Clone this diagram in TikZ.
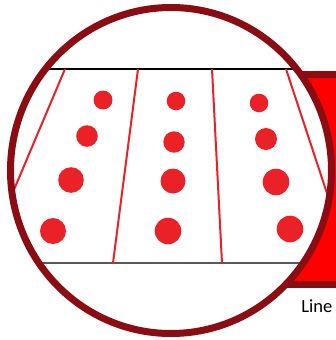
\documentclass[tikz,border=0pt]{standalone}
\usepackage{fontspec}
\setmainfont{Carlito}
\usepackage{tikz}
\definecolor{lensrim}{RGB}{140, 12, 20}
\definecolor{lanered}{RGB}{234, 34, 40}
\definecolor{boxred}{RGB}{255, 0, 0}
\definecolor{edgegray}{RGB}{90, 90, 90}

\begin{document}
\begin{tikzpicture}[
  x=0.75pt, y=-0.75pt,
  rim/.style={draw=lensrim, line width=5.25pt},
  lane/.style={draw=lanered, line width=1.5pt},
  edge/.style={line width=1.5pt},
  dot/.style={fill=lanered},
  label/.style={font=\fontsize{13.9}{16}\selectfont, inner sep=0pt}
]
  \useasboundingbox (0,0) rectangle (336,340);
  \clip (0,0) rectangle (336,340);

  % Red box behind the lens
  \draw[rim, fill=boxred] (270,74.5) rectangle (360,284);

  % Lens background
  \fill[white] (171,170.5) ellipse [x radius=160.5, y radius=163];

  \begin{scope}
    \clip (171,170.5) ellipse [x radius=160.5, y radius=163];
    % Road edges
    \draw[edge, black] (0,69) -- (336,69);
    \draw[edge, edgegray] (0,262.7) -- (336,262.7);
    % Lane lines
    \draw[lane] (65,69) -- (-17,263);
    \draw[lane] (138,69) -- (113,263);
    \draw[lane] (212,69) -- (222,263);
    \draw[lane] (286,69) -- (350,263);
    % Lane dots
    \foreach \px/\py/\pr in {103/100/9.5, 87/136/10.8, 71/180/12.8, 53/231/13,
                            176/101/9.3, 174/142/10.7, 173/181/12.5, 168/231/13.3,
                            259/103/9.3, 266/139/11, 276/182/13.3, 290/229/13.3}
      \fill[dot] (\px,\py) circle [radius=\pr];
  \end{scope}

  % Lens rim
  \draw[rim] (171,170.5) ellipse [x radius=160.5, y radius=163];

  % Caption
  \node[label, anchor=base west] (caption) at (301,312.3) {Line};

\end{tikzpicture}
\end{document}
